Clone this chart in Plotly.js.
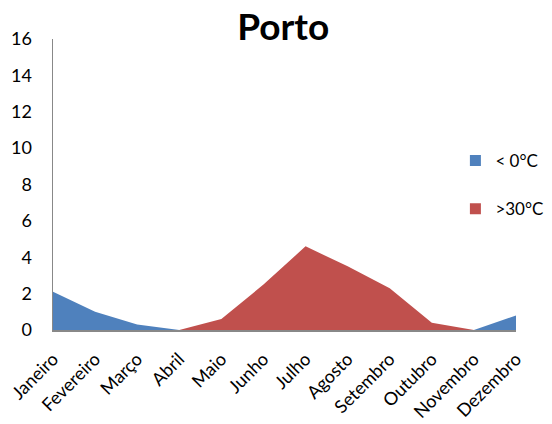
<!DOCTYPE html>
<html><head><meta charset="utf-8">
<script src="https://cdn.plot.ly/plotly-3.0.1.min.js"></script>
<style>body{margin:0}#c{width:552px;height:424px}</style>
</head><body><div id="c"></div>
<script>
const months = ["Janeiro","Fevereiro","Março","Abril","Maio","Junho","Julho","Agosto","Setembro","Outubro","Novembro","Dezembro"];
const below0 = [2.1, 1.0, 0.3, 0, 0, 0, 0, 0, 0, 0, 0, 0.8];
const above30 = [0, 0, 0, 0, 0.6, 2.5, 4.6, 3.5, 2.3, 0.4, 0, 0];
const yTicks = [0,2,4,6,8,10,12,14,16];
const names = ["< 0°C", ">30°C"];
const colors = ["#4F81BD", "#C0504D"];

const font = "Lato, 'Open Sans', sans-serif";
const traces = [
  {x: months, y: below0, name: names[0], type: "scatter", mode: "lines", fill: "tozeroy",
   line: {width: 0, color: colors[0]}, fillcolor: colors[0], showlegend: false},
  {x: months, y: above30, name: names[1], type: "scatter", mode: "lines", fill: "tozeroy",
   line: {width: 0, color: colors[1]}, fillcolor: colors[1], showlegend: false},
  {x: [months[0]], y: [null], name: names[0], type: "scatter", mode: "markers",
   marker: {symbol: "square", size: 11, color: colors[0]}, legendgroup: "a"},
  {x: [months[0]], y: [null], name: names[1], type: "scatter", mode: "markers",
   marker: {symbol: "square", size: 11, color: colors[1]}, legendgroup: "b"}
];
const layout = {
  width: 552, height: 424,
  margin: {l: 53, r: 36, t: 39, b: 94, autoexpand: false},
  paper_bgcolor: "#fff", plot_bgcolor: "#fff",
  font: {family: font, size: 18, color: "#000"},
  title: {text: "<b>Porto</b>", x: 0.513, xanchor: "center", y: 0.937, yanchor: "middle",
          font: {family: font, size: 37, color: "#000"}},
  xaxis: {type: "category", range: [0, 11], showgrid: false, zeroline: false,
          showline: true, linecolor: "#888", linewidth: 1.5, ticks: "", tickangle: -45,
          ticklabelstandoff: 10, tickfont: {size: 18}},
  yaxis: {range: [0, 16], tickvals: yTicks, showgrid: false, zeroline: false,
          showline: true, linecolor: "#888", linewidth: 1.5, ticks: "", ticklabelstandoff: 16,
          tickfont: {size: 18}},
  showlegend: true,
  legend: {xref: "container", yref: "container", x: 0.825, xanchor: "left",
           y: 1 - 143/424, yanchor: "top", traceorder: "grouped",
           tracegroupgap: 23, font: {size: 17}, bgcolor: "rgba(0,0,0,0)", itemwidth: 30}
};
Plotly.newPlot("c", traces, layout, {displayModeBar: false, staticPlot: true});
</script></body></html>
